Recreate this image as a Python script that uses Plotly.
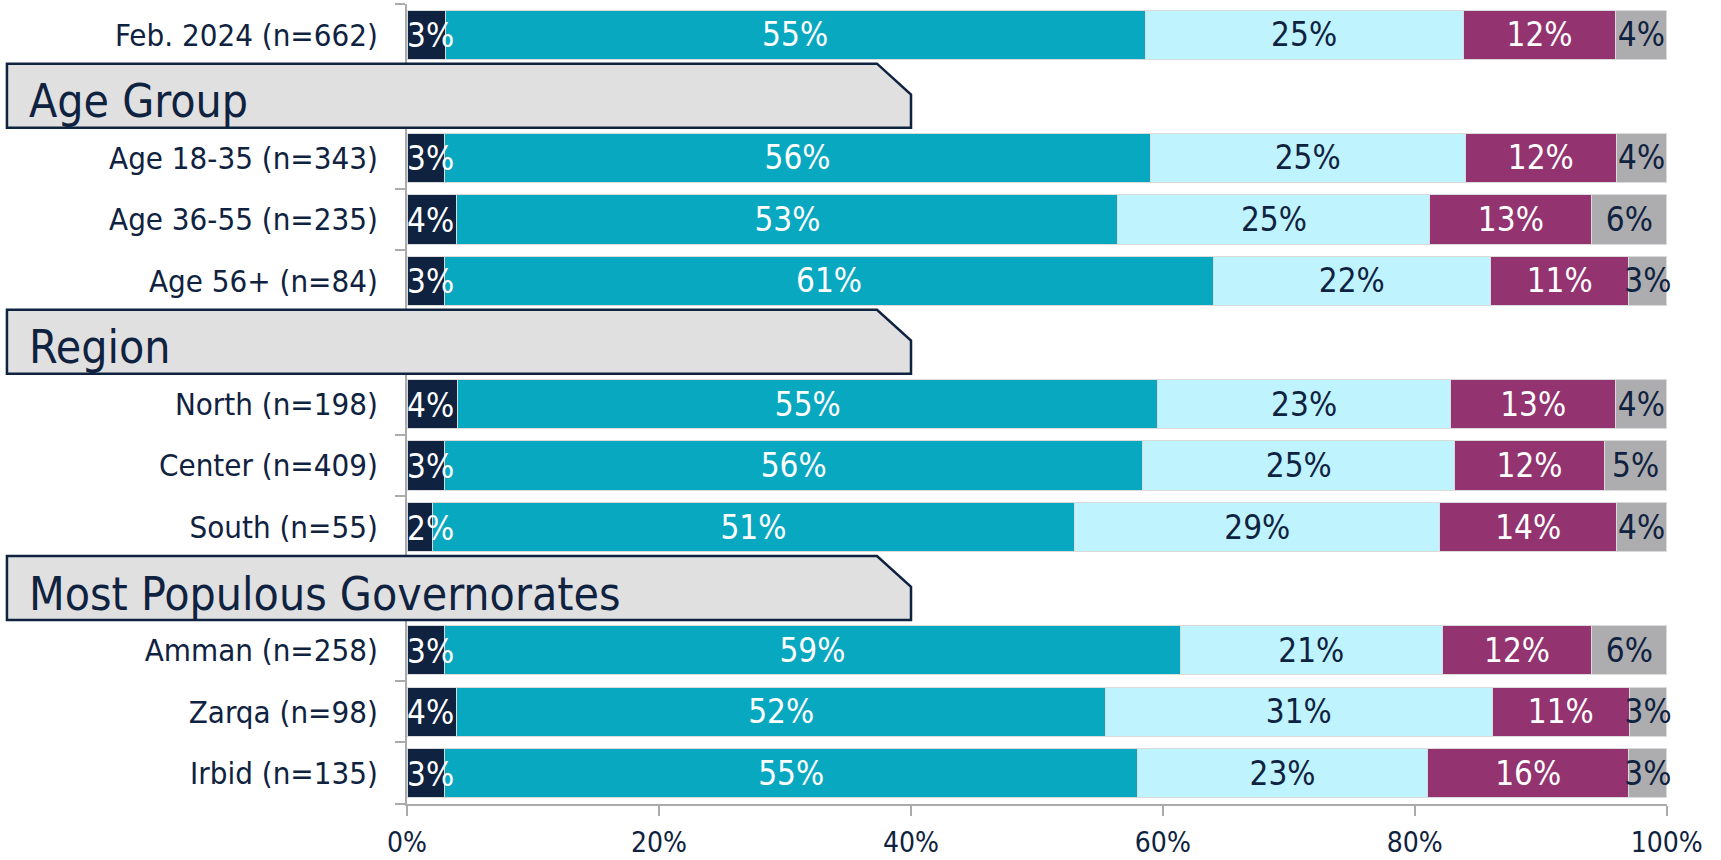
import plotly.graph_objects as go

# Row labels in display order (section headers are empty rows with a banner)
row_order = [
    "Feb. 2024 (n=662)",
    "Age Group",
    "Age 18-35 (n=343)",
    "Age 36-55 (n=235)",
    "Age 56+ (n=84)",
    "Region",
    "North (n=198)",
    "Center (n=409)",
    "South (n=55)",
    "Most Populous Governorates",
    "Amman (n=258)",
    "Zarqa (n=98)",
    "Irbid (n=135)",
]
section_headers = ["Age Group", "Region", "Most Populous Governorates"]

bar_rows = [
    "Feb. 2024 (n=662)",
    "Age 18-35 (n=343)",
    "Age 36-55 (n=235)",
    "Age 56+ (n=84)",
    "North (n=198)",
    "Center (n=409)",
    "South (n=55)",
    "Amman (n=258)",
    "Zarqa (n=98)",
    "Irbid (n=135)",
]

# Response shares (%) per row, left to right
resp_1 = [3, 3, 4, 3, 4, 3, 2, 3, 4, 3]
resp_2 = [55, 56, 53, 61, 55, 56, 51, 59, 52, 55]
resp_3 = [25, 25, 25, 22, 23, 25, 29, 21, 31, 23]
resp_4 = [12, 12, 13, 11, 13, 12, 14, 12, 11, 16]
resp_5 = [4, 4, 6, 3, 4, 5, 4, 6, 3, 3]

x_ticks = [0, 20, 40, 60, 80, 100]

NAVY = "#0F2240"
# (name, values, fill, text colour)
series = [
    ("Response 1", resp_1, "#0F2240", "white"),
    ("Response 2", resp_2, "#09A8C1", "white"),
    ("Response 3", resp_3, "#BFF3FE", NAVY),
    ("Response 4", resp_4, "#93336F", "white"),
    ("Response 5", resp_5, "#ADADAF", NAVY),
]

LABEL_FONT = "DejaVu Sans Condensed, DejaVu Sans, sans-serif"
AXIS_GRAY = "#ABABAB"
BAR_TEXT_SIZE = 33

fig = go.Figure()
for k, (name, vals, color, txt_color) in enumerate(series):
    labels = [f"{v}%" for v in vals]
    fig.add_trace(go.Bar(
        name=name,
        y=bar_rows,
        x=vals,
        orientation="h",
        marker=dict(color=color, line=dict(color="#DADADA", width=1)),
        text=labels,
        texttemplate="%{text}",
        # the thin first segment is labelled by annotations below
        textposition="none" if k == 0 else "inside",
        insidetextanchor="middle",
        textangle=0,
        constraintext="none",
        cliponaxis=False,
        insidetextfont=dict(family=LABEL_FONT, size=BAR_TEXT_SIZE, color=txt_color),
        hovertemplate="%{y}: %{text}<extra></extra>",
    ))

annotations = []

# Labels of the first segment start at the bar origin and may spill over
for row, v in zip(bar_rows, resp_1):
    annotations.append(dict(
        text=f"{v}%", xref="x", yref="y", x=0, y=row,
        xanchor="left", yanchor="middle", showarrow=False,
        borderpad=0, xshift=-1, yshift=-1,
        font=dict(family=LABEL_FONT, size=BAR_TEXT_SIZE, color="white"),
    ))

# Section banners: grey tab with a chamfered top-right corner
box_left, chamfer_x, box_right = -0.3175, 0.373, 0.400
shapes = []
for h in section_headers:
    i = row_order.index(h)
    y0, ymid, y1 = i - 0.53, i - 0.03, i + 0.51
    path = (f"M {box_left},{y0} L {chamfer_x},{y0} L {box_right},{ymid} "
            f"L {box_right},{y1} L {box_left},{y1} Z")
    shapes.append(dict(
        type="path", path=path, xref="paper", yref="y",
        fillcolor="#E0E0E0", line=dict(color=NAVY, width=2.5), layer="above",
    ))
    annotations.append(dict(
        text=h, xref="paper", yref="y", x=box_left + 0.0159, y=i,
        xanchor="left", yanchor="middle", yshift=-5, showarrow=False,
        font=dict(family=LABEL_FONT, size=46, color=NAVY),
    ))

fig.update_layout(
    width=1721,
    height=860,
    barmode="stack",
    barnorm="percent",
    bargap=0.2,
    showlegend=False,
    plot_bgcolor="white",
    paper_bgcolor="white",
    margin=dict(l=407, r=54, t=4, b=56),
    shapes=shapes,
    annotations=annotations,
    xaxis=dict(
        range=[0, 100.02],
        tickvals=x_ticks,
        ticktext=[f"{t}%" for t in x_ticks],
        automargin=False,
        showgrid=False,
        zeroline=False,
        showline=True,
        linecolor=AXIS_GRAY,
        linewidth=2,
        ticks="outside",
        ticklen=10,
        tickwidth=1.5,
        tickcolor=AXIS_GRAY,
        ticklabelstandoff=2,
        tickfont=dict(family=LABEL_FONT, size=28, color=NAVY),
    ),
    yaxis=dict(
        type="category",
        categoryorder="array",
        categoryarray=row_order,
        range=[len(row_order) - 0.5, -0.5],
        tickvals=row_order,
        ticktext=["" if r in section_headers else r for r in row_order],
        tickson="boundaries",
        automargin=False,
        showgrid=False,
        zeroline=False,
        showline=True,
        linecolor=AXIS_GRAY,
        linewidth=2,
        ticks="outside",
        ticklen=10,
        tickwidth=1.5,
        tickcolor=AXIS_GRAY,
        ticklabelstandoff=21,
        tickfont=dict(family=LABEL_FONT, size=31, color=NAVY),
    ),
)

fig.write_html("out.html")
